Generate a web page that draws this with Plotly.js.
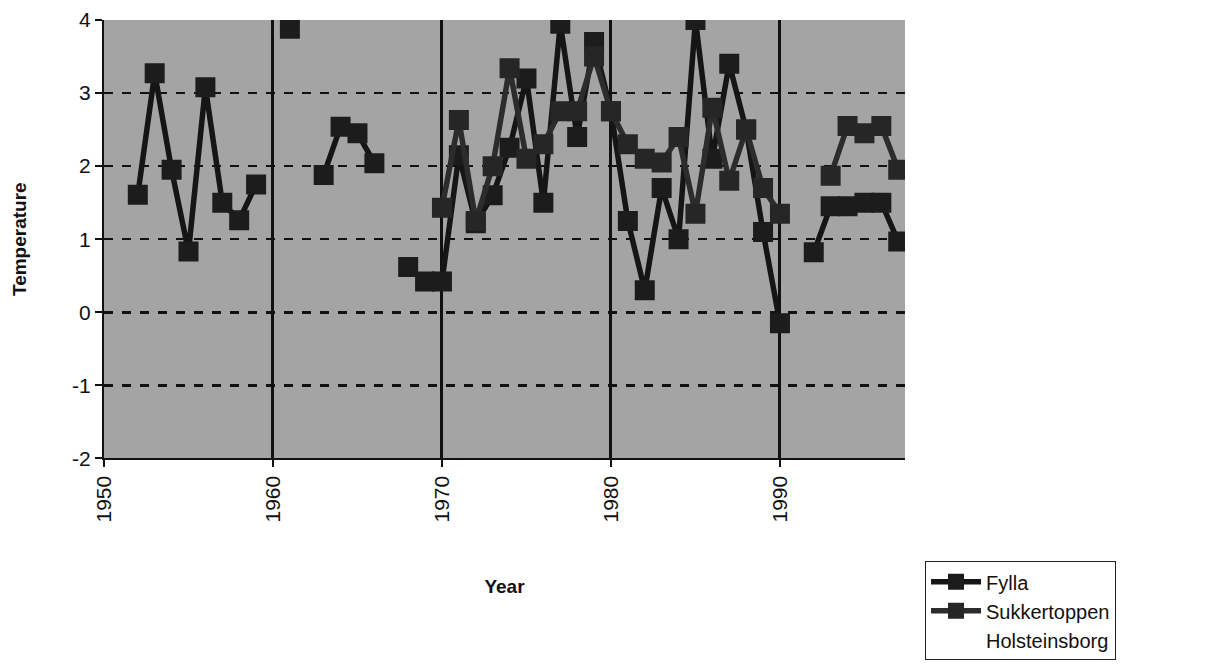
<!DOCTYPE html>
<html>
<head>
<meta charset="utf-8">
<script src="https://cdn.plot.ly/plotly-3.0.1.min.js"></script>
<style>
  html, body { margin: 0; padding: 0; background: #ffffff; }
  #chart { width: 1206px; height: 672px; }
</style>
</head>
<body>
<div id="chart"></div>
<script>
// Annual mean temperatures at West Greenland stations
const years = [1952, 1953, 1954, 1955, 1956, 1957, 1958, 1959, 1960, 1961, 1962,
  1963, 1964, 1965, 1966, 1967, 1968, 1969, 1970, 1971, 1972, 1973, 1974, 1975,
  1976, 1977, 1978, 1979, 1980, 1981, 1982, 1983, 1984, 1985, 1986, 1987, 1988,
  1989, 1990, 1991, 1992, 1993, 1994, 1995, 1996, 1997];

const fylla = [1.61, 3.27, 1.95, 0.83, 3.08, 1.50, 1.26, 1.75, null, 3.88, null,
  1.88, 2.54, 2.45, 2.04, null, 0.62, 0.42, 0.42, 2.15, 1.22, 1.60, 2.25, 3.20,
  1.50, 3.95, 2.40, 3.70, 2.75, 1.25, 0.30, 1.70, 1.00, 4.00, 2.10, 3.40, 2.50,
  1.10, -0.15, null, 0.82, 1.45, 1.45, 1.50, 1.50, 0.97];

const sukkertoppen = [null, null, null, null, null, null, null, null, null, null, null,
  null, null, null, null, null, null, null, 1.43, 2.63, 1.25, 2.00, 3.34, 2.10,
  2.30, 2.75, 2.75, 3.50, 2.75, 2.30, 2.10, 2.05, 2.40, 1.35, 2.80, 1.80, 2.50,
  1.70, 1.35, null, null, 1.87, 2.55, 2.45, 2.55, 1.95];

// No readings plotted for this station; it only appears in the legend
const holsteinsborgYears = [1952];
const holsteinsborg = [null];

const yearTicks = [1950, 1960, 1970, 1980, 1990];
const tempTicks = [-2, -1, 0, 1, 2, 3, 4];

const FONT = 'Liberation Sans, Arial, sans-serif';

const traces = [
  {
    name: 'Fylla', x: years, y: fylla, type: 'scatter', mode: 'lines+markers',
    line: { color: '#151515', width: 5.5 },
    marker: { symbol: 'square', size: 20, color: '#1c1c1c' },
    connectgaps: false
  },
  {
    name: 'Sukkertoppen', x: years, y: sukkertoppen, type: 'scatter', mode: 'lines+markers',
    line: { color: '#2c2c2c', width: 5.5 },
    marker: { symbol: 'square', size: 20, color: '#262626' },
    connectgaps: false
  },
  {
    name: 'Holsteinsborg', x: holsteinsborgYears, y: holsteinsborg, type: 'scatter', mode: 'lines',
    line: { color: 'rgba(255,255,255,0)', width: 2 }
  }
];

const tickFont = { family: FONT, size: 21, color: '#111111' };

// The axes occupy the upper part of the plotting region; the legend sits
// in the lower-right corner below them.
const layout = {
  width: 1206, height: 672,
  margin: { l: 104, r: 301, t: 20, b: 100 },
  paper_bgcolor: '#ffffff',
  plot_bgcolor: '#a4a4a4',
  showlegend: true,
  xaxis: {
    range: [1950, 1997.4],
    tickvals: yearTicks,
    ticktext: yearTicks.map(String),
    tickangle: -90,
    tickfont: tickFont,
    ticks: 'outside', ticklen: 7, tickcolor: '#111111', tickwidth: 2,
    showgrid: true, gridcolor: '#111111', gridwidth: 3,
    zeroline: false,
    showline: true, linecolor: '#111111', linewidth: 2,
    title: { text: '<b>Year</b>', font: { family: FONT, size: 19, color: '#111111' }, standoff: 58 }
  },
  yaxis: {
    domain: [0.2029, 1],
    range: [-2, 4],
    tickvals: tempTicks,
    ticktext: tempTicks.map(String),
    tickfont: tickFont,
    ticks: 'outside', ticklen: 7, tickcolor: '#111111', tickwidth: 2,
    showgrid: true, gridcolor: '#111111', gridwidth: 2.5, griddash: 'dash',
    zeroline: false,
    showline: true, linecolor: '#111111', linewidth: 2,
    title: { text: '<b>Temperature</b>', font: { family: FONT, size: 19, color: '#111111' }, standoff: 40 }
  },
  legend: {
    x: 1.025, xanchor: 'left',
    y: 0.016, yanchor: 'top',
    bgcolor: '#ffffff',
    bordercolor: '#222222', borderwidth: 1,
    font: { family: FONT, size: 20, color: '#111111' },
    itemwidth: 50,
    tracegroupgap: 0
  }
};

Plotly.newPlot('chart', traces, layout, { displayModeBar: false, staticPlot: true });
</script>
</body>
</html>
